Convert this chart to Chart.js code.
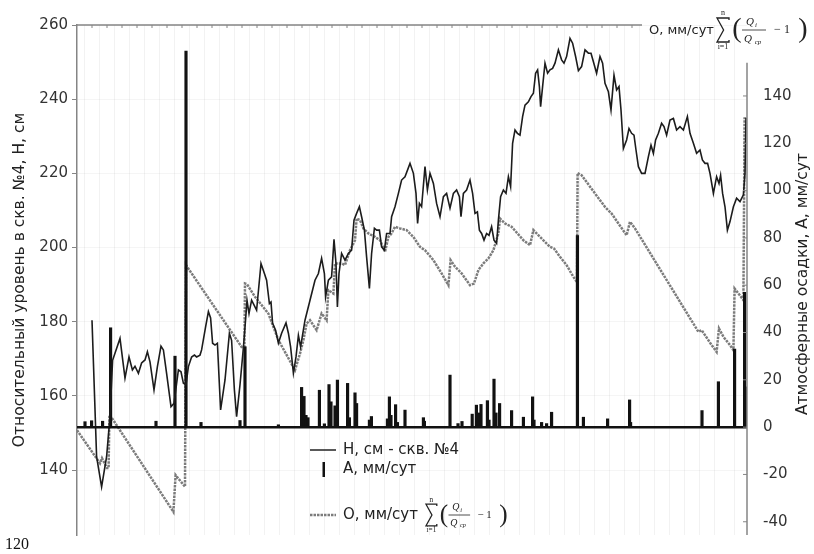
<!DOCTYPE html>
<html>
<head>
<meta charset="utf-8">
<script src="https://cdn.jsdelivr.net/npm/chart.js@4.4.1/dist/chart.umd.min.js"></script>
<style>
  html, body { margin: 0; padding: 0; background: #fff; }
  #wrap { position: relative; width: 814px; height: 554px; }
  canvas { display: block; }
</style>
</head>
<body>
<div id="wrap"><canvas id="c" width="814" height="554"></canvas></div>
<script>
// Observation day (x) and groundwater level H, cm, well No. 4
const levelDays = [7.5,9.8,12.3,14.8,16.5,17.8,21.5,24,26,27.7,29,30.7,32.3,34,35.2,36.5,38.5,40.2,42,43.2,44.8,47,48.5,50.7,52,53.2,54.5,55.7,57.3,58.7,59.8,61.5,62.3,64.3,65.7,66.8,67.8,69,70.2,71.8,74,76.2,77.3,78.7,79.8,81.5,83.2,84.5,85,86,87.3,89.8,92,93.7,94.8,96.2,97,97.8,99.3,100.7,102.3,104.5,105.7,106.8,108.2,109.5,110.7,111.8,114,116.5,119,120.7,122.3,123.7,124.3,125.7,127.3,128.5,129.5,130.2,131,132.3,134,135.7,137.3,138.5,139.8,141.2,142.3,143.7,144.8,146.2,147.3,148.7,149.8,151.2,152.3,153.7,154.8,156.5,157.3,159,160.7,162.3,164,166.5,168.2,169.5,170.3,171.2,172.3,174,175.2,176.5,178.2,179.8,181.5,183.2,184.8,186.5,188.2,189.8,191.2,192,193.2,194.8,196.5,197.8,199,200.2,201.2,202.3,203.5,204.8,206,207.3,208.5,209.8,210.7,211.8,213.2,214.5,215.7,216.8,217.8,219,220.2,221.5,222.8,224,225.7,227,228.2,229.3,230.3,231.2,231.8,232.8,234,235.3,236.5,237.8,239,240.7,242.3,243.5,244.8,246.5,247.8,249.3,250.7,252.3,254,255.7,257,258.2,259.8,261.5,262.8,264,265.7,267,268.5,269.8,271,272,273.2,274.8,276,277.3,278.5,279.5,280.7,282.3,284,285.7,287,288.2,289.3,290.7,292.3,293.5,294.8,296.5,298.2,299.8,301.5,303.2,305.2,306.5,308.2,309.8,311.5,312.7,314,315.3,316.5,318.2,319.8,321,321.8,322.8,324,325.2,326.5,328.2,329.8,331.5,333.2,334,334.5];
const levelH = [180.4,143.6,135.5,143.6,154.4,169.6,175.5,164.8,170.5,167,168,166.1,168.9,169.7,171.9,169.2,161.6,167.9,173.4,172.4,166.1,157.1,158,167,166.5,163.4,163,167.9,170.5,171,170.5,171,172.4,178.6,182.7,181,174.2,173.7,174.2,156.2,164.3,176.9,175,161.6,154.4,163,173,182,185.8,182.2,185.8,183.1,195.7,193,191.2,184.9,185.3,179.6,177.7,174.2,176.9,179.7,176.9,173.2,166.1,170.5,176.3,173.2,180.4,185.8,191.2,193,197.1,193,186.7,191.2,192.1,202.2,195.7,184,193,198.4,196.6,198.4,199.3,207.4,209.2,211,208.3,204.7,197.5,189,198.4,205.2,204.7,204.7,200.2,199.3,203.8,203.8,208.3,211,214.6,218.2,219.1,222.7,220,214.6,206.5,211.9,211,221.8,215.5,220,217.3,211.9,208.3,213.7,214.6,210.6,214.6,215.5,213.7,208.3,214.6,215.5,218.2,214.6,209.2,209.6,204.7,203.8,202,203.8,203.3,205.6,202,201.1,207.4,213.7,215.5,214.6,219.1,216.4,228.1,231.7,230.8,230.3,235.3,238.4,239.3,240.7,241.6,247,247.9,243.4,238,243.4,249.7,247,247.9,248.3,249.7,253.3,250.6,249.7,251.5,256.4,255.1,251.5,247.7,248.8,253.3,252.4,252.4,250.1,247,251.5,249.7,244.3,242,237.1,246.5,242.5,243.4,237.1,226.7,229,232.1,230.8,230.3,226.3,221.8,220,220,224.5,227.6,225.4,229,230.8,233.5,232.6,230.3,234.4,234.8,231.7,232.6,231.7,235.3,230.8,228.1,225.4,226.3,223.6,222.7,222.7,220,214.6,219.1,217.3,219.5,214.6,211,204.7,207,211,213.3,212.4,214.2,220,235];

// Cumulative index O, mm/day: sum of (Q_i / Q_avg - 1)
const sumDays = [0,11.5,12.5,15,15.8,16.2,17.5,48.2,49.3,54,54.5,82.3,83.7,84,85,89,95.7,100.7,109,111.5,113.2,114.8,116.5,119.8,122.3,124.8,125.7,128.2,129,132.3,134,136.5,139,139.8,141.5,143.2,145.7,149,151.5,154,155.7,157.3,159,161.5,164.8,168.2,171.5,174,178.2,182.3,185.7,186.8,189,192.3,196.5,198.5,200.7,203.2,205.7,208.2,210.7,211.5,214,217.3,223.2,226.5,228.2,229.8,233.2,236.5,238.5,241.5,244.8,248.2,250,250.3,252.3,259,264,267.3,270.7,274.8,276.5,279,310.7,312.3,314,317.3,319.8,321,323.2,326.5,328.2,328.8,330.7,333.2,333.8];
const sumO = [-1.3,-15.3,-13.1,-17.3,-17.3,5.1,3.8,-35.8,-20.3,-25.2,68.5,33.9,33.9,60.7,60.4,55.1,48,36.8,24.1,31.1,36.8,43.8,45.2,41,48,45.2,57.9,56.5,69.2,69.2,68.5,74.8,79,88.2,87.5,84,81.9,80.4,79,74.1,80.4,81.9,84.7,84,83.3,80.4,76.2,74.8,70.6,65,60,70.6,67.8,65,60,60.7,66.4,69.2,71.3,74.8,81.9,88.2,86.1,84.7,79,76.9,83.3,81.9,79,76.2,75.5,72,68.5,63.5,61.3,107.4,106.5,98.8,93.1,90.3,86.1,81.1,86.8,84,40.3,41,38.9,34.7,31.8,41.7,38.2,34.7,32.5,58.6,56.5,53.7,131];

// Daily precipitation A, mm/day
const rainDays = [4,7.3,12.8,16.8,39.5,49,54.5,62,81.5,84,100.7,112.3,113.5,114.5,115.5,121.2,123.7,126,127,129,130.2,135.3,136.2,139,139.8,146.2,147.2,155.2,156.2,157,159.3,160.2,164,173.2,173.7,186.5,190.5,192.5,197.6,199.7,200.7,202,205.2,206,208.5,209.5,211.3,217.3,223.2,227.8,228.5,232.3,234.8,237.3,250.2,253.2,265.3,276.3,276.8,312.5,320.7,328.8,333.8,334.5];
const rainA = [2.3,2.7,2.5,42,2.5,30,159,2,2.8,34,1,16.8,13,5,4,15.6,1.4,18,10.7,9,19.9,18.5,4,14.5,10,3,4.5,3.5,12.8,5,9.5,2,7.2,4,2.5,22,1.5,2.4,5.5,9.3,6,9.6,11.2,3,20.3,6,10,7,4.2,12.8,3,2,1.5,6.3,81,4.2,3.5,11.5,2,7,19.2,33,57,17];

// Axis tick values
const leftTicks = [140, 160, 180, 200, 220, 240, 260];
const rightTicks = [-40, -20, 0, 20, 40, 60, 80, 100, 120, 140];

const SANS = '"DejaVu Sans", Verdana, sans-serif';
const SERIF = '"Liberation Serif", "Times New Roman", serif';
const INK = '#222';
const AXIS = '#858585';
const O_COLOR = '#7c7c7c';

const pairs = (xs, ys) => xs.map((x, i) => ({ x, y: ys[i] }));

// Σ_{i=1}^{n} (Q_i / Q_ср − 1), drawn from the left edge x around the middle line ym
function drawSum(ctx, x, ym, s) {
  ctx.save();
  ctx.fillStyle = INK;
  ctx.strokeStyle = INK;
  ctx.textBaseline = 'middle';
  ctx.textAlign = 'center';
  // summation sign
  const w = 12 * s, h = 12 * s;
  ctx.lineWidth = 1.3;
  ctx.lineJoin = 'miter';
  ctx.beginPath();
  ctx.moveTo(x + w, ym - h + 2 * s);
  ctx.lineTo(x + w, ym - h);
  ctx.lineTo(x, ym - h);
  ctx.lineTo(x + 0.55 * w, ym);
  ctx.lineTo(x, ym + h);
  ctx.lineTo(x + w, ym + h);
  ctx.lineTo(x + w, ym + h - 2 * s);
  ctx.stroke();
  ctx.font = `${8 * s}px ${SERIF}`;
  ctx.fillText('n', x + 6 * s, ym - 17 * s);
  ctx.fillText('i=1', x + 6 * s, ym + 17 * s);
  // brackets
  ctx.font = `${28 * s}px ${SERIF}`;
  ctx.fillText('(', x + 20 * s, ym);
  ctx.fillText(')', x + 86 * s, ym);
  // fraction
  ctx.font = `italic ${11 * s}px ${SERIF}`;
  ctx.fillText('Q', x + 33 * s, ym - 8 * s);
  ctx.fillText('Q', x + 31 * s, ym + 9 * s);
  ctx.font = `italic ${7 * s}px ${SERIF}`;
  ctx.fillText('i', x + 39 * s, ym - 5 * s);
  ctx.fillText('ср', x + 41 * s, ym + 12 * s);
  ctx.lineWidth = 0.8;
  ctx.beginPath();
  ctx.moveTo(x + 25 * s, ym);
  ctx.lineTo(x + 49 * s, ym);
  ctx.stroke();
  ctx.font = `${12 * s}px ${SERIF}`;
  ctx.fillText('− 1', x + 65 * s, ym);
  ctx.restore();
}

const framePlugin = {
  id: 'frame',
  afterDatasetsDraw(chart) {
    const { ctx, chartArea: a, scales } = chart;
    const y0 = scales.yA.getPixelForValue(0);
    ctx.save();
    ctx.strokeStyle = '#111';
    ctx.lineWidth = 2.5;
    ctx.beginPath();
    ctx.moveTo(a.left, y0);
    ctx.lineTo(a.right, y0);
    ctx.stroke();
    ctx.restore();
  },
  afterDraw(chart) {
    const { ctx, chartArea: a, scales } = chart;
    const xs = scales.x, yA = scales.yA;
    ctx.save();

    // top-right series label
    ctx.font = `13px ${SANS}`;
    ctx.fillStyle = INK;
    ctx.textBaseline = 'middle';
    ctx.textAlign = 'left';
    const labelX = 649;
    ctx.fillText('О, мм/сут', labelX, 31);
    drawSum(ctx, 717, 30, 1);

    // top frame line with inner ticks
    const topEnd = labelX - 7;
    ctx.strokeStyle = AXIS;
    ctx.lineWidth = 1.5;
    ctx.beginPath();
    ctx.moveTo(a.left, a.top);
    ctx.lineTo(topEnd, a.top);
    ctx.stroke();
    ctx.lineWidth = 1;
    for (let d = 7.5; d < xs.max; d += 7.5) {
      const px = xs.getPixelForValue(d);
      if (px > topEnd) break;
      ctx.beginPath();
      ctx.moveTo(px, a.top);
      ctx.lineTo(px, a.top + 3);
      ctx.stroke();
    }

    // right axis line and inner ticks
    const yTop = yA.getPixelForValue(154);
    ctx.lineWidth = 1.5;
    ctx.beginPath();
    ctx.moveTo(a.right, yTop);
    ctx.lineTo(a.right, a.bottom);
    ctx.stroke();
    ctx.lineWidth = 1;
    rightTicks.forEach(v => {
      const py = yA.getPixelForValue(v);
      ctx.beginPath();
      ctx.moveTo(a.right - 4, py);
      ctx.lineTo(a.right, py);
      ctx.stroke();
    });

    // axis titles
    ctx.fillStyle = INK;
    ctx.textAlign = 'center';
    ctx.font = `15.5px ${SANS}`;
    ctx.save();
    ctx.translate(20, 280);
    ctx.rotate(-Math.PI / 2);
    ctx.fillText('Относительный уровень в скв. №4, H, см', 0, 0);
    ctx.restore();
    ctx.save();
    ctx.translate(803, 284);
    ctx.rotate(-Math.PI / 2);
    ctx.fillText('Атмосферные осадки, A, мм/сут', 0, 0);
    ctx.restore();

    // legend
    ctx.textAlign = 'left';
    ctx.font = `15px ${SANS}`;
    ctx.strokeStyle = INK;
    ctx.lineWidth = 1.5;
    ctx.beginPath();
    ctx.moveTo(310, 450);
    ctx.lineTo(336, 450);
    ctx.stroke();
    ctx.fillText('H, см - скв. №4', 343, 450);
    ctx.fillStyle = '#111';
    ctx.fillRect(322.5, 462, 2.5, 15);
    ctx.fillStyle = INK;
    ctx.fillText('A, мм/сут', 343, 469);
    ctx.strokeStyle = O_COLOR;
    ctx.lineWidth = 2.5;
    ctx.setLineDash([2.5, 1]);
    ctx.beginPath();
    ctx.moveTo(310, 515);
    ctx.lineTo(336, 515);
    ctx.stroke();
    ctx.setLineDash([]);
    ctx.fillText('О, мм/сут', 343, 515);
    drawSum(ctx, 426, 515, 0.9);

    // page number
    ctx.font = `16px ${SERIF}`;
    ctx.fillStyle = '#111';
    ctx.fillText('120', 5, 545);

    ctx.restore();
  }
};

new Chart(document.getElementById('c'), {
  type: 'line',
  data: {
    datasets: [
      {
        label: 'H, см - скв. №4',
        data: pairs(levelDays, levelH),
        yAxisID: 'yH',
        borderColor: '#1c1c1c',
        borderWidth: 1.6,
        pointRadius: 0,
        tension: 0,
        order: 1
      },
      {
        type: 'bar',
        label: 'A, мм/сут',
        data: pairs(rainDays, rainA),
        yAxisID: 'yA',
        backgroundColor: '#111',
        borderWidth: 0,
        barThickness: 2.5,
        order: 2
      },
      {
        label: 'О, мм/сут',
        data: pairs(sumDays, sumO),
        yAxisID: 'yA',
        borderColor: O_COLOR,
        borderWidth: 2.5,
        borderDash: [2.5, 1],
        pointRadius: 0,
        tension: 0,
        order: 3
      }
    ]
  },
  options: {
    responsive: false,
    animation: false,
    devicePixelRatio: 1,
    layout: { padding: { top: 25, bottom: 19, left: 0, right: 0 } },
    plugins: { legend: { display: false }, tooltip: { enabled: false } },
    scales: {
      x: {
        type: 'linear',
        min: 0,
        max: 335,
        offset: false,
        ticks: { display: false, stepSize: 7.5 },
        grid: { color: 'rgba(0,0,0,0.05)', drawTicks: false },
        border: { display: false },
        afterFit: s => { s.height = 0; }
      },
      yH: {
        position: 'left',
        min: 122.5,
        max: 260,
        afterBuildTicks: s => { s.ticks = leftTicks.map(v => ({ value: v })); },
        ticks: { font: { family: SANS, size: 15 }, color: '#333', padding: 4 },
        grid: { color: 'rgba(0,0,0,0.04)', tickColor: AXIS, tickLength: 5 },
        border: { color: AXIS, width: 1.5 },
        afterFit: s => { s.width = 77; }
      },
      yA: {
        position: 'right',
        min: -45.6,
        max: 170,
        afterBuildTicks: s => { s.ticks = rightTicks.map(v => ({ value: v })); },
        ticks: { font: { family: SANS, size: 15 }, color: '#333', padding: 8 },
        grid: { display: false },
        border: { display: false },
        afterFit: s => { s.width = 67; }
      }
    }
  },
  plugins: [framePlugin]
});
</script>
</body>
</html>
